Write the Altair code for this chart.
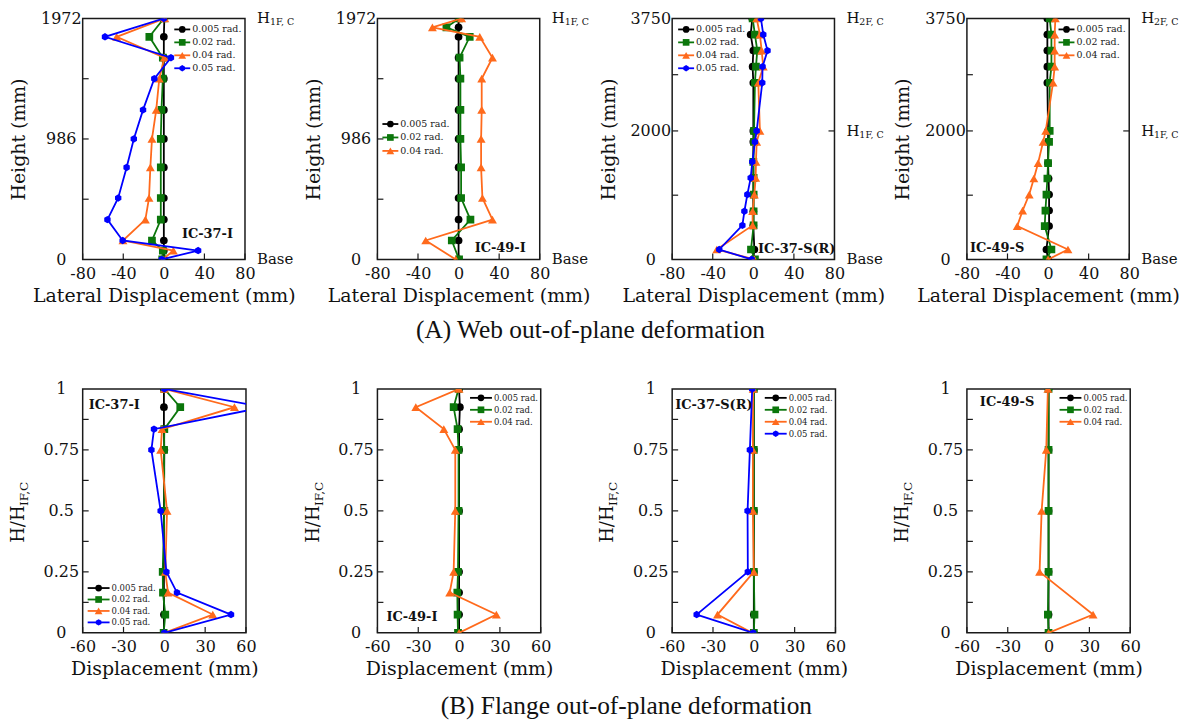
import altair as alt
import pandas as pd

FONT = "DejaVu Serif"
CAP_FONT = "Liberation Serif"

LABELS = ["0.005 rad.", "0.02 rad.", "0.04 rad.", "0.05 rad."]
COLORS = ["#000000", "#0b760b", "#ff6a1c", "#0000ff"]
HEX = "M0,-1L0.866,-0.5L0.866,0.5L0,1L-0.866,0.5L-0.866,-0.5Z"
SHAPES = ["circle", "square", "triangle-up", HEX]
SIZES = [60, 60, 80, 55]

# ---------------- (A) Web out-of-plane deformation ----------------
W37I_H = [1972, 1822, 1651, 1479, 1224, 986, 753, 503, 326, 155, 73, 0]
W37I_005 = [0.5, 0, 0, 0, 0, 0, 0, 0, 0, 0, 0, 0]
W37I_02 = [0, -14.3, -1, -1, -2.3, -3, -3, -3, -3, -11.7, -1, -1.6]
W37I_04 = [1, -46.5, 0.5, -4.5, -7.5, -11.7, -13.3, -14.6, -18.2, -40.3, 9.4, -1]
W37I_05 = [0, -58, 7, -9.4, -20.5, -29.6, -36.7, -45, -55.6, -40.6, 33.8, -2]

W49I_H = [1972, 1900, 1822, 1651, 1479, 1224, 986, 753, 503, 326, 155, 0]
W49I_005 = [0, 0, 0, 0, 0, 0, 0, 0, 0, 0, 0, 0]
W49I_02 = [0.5, -12, 11, 1, 1.8, 1.8, 1.8, 2.5, 2.5, 11.7, -6.7, 0.5]
W49I_04 = [3, -25.8, 20.9, 33.4, 22.8, 22.8, 22.2, 22.2, 23.5, 33.4, -32.4, -2.8]

W37S_H = [3750, 3500, 3250, 3000, 2750, 2000, 1830, 1520, 1270, 1010, 750, 530, 155, 0]
W37S_005 = [-1, -2.6, 0, -0.7, 0, 0, 0, 0, 0, 0, 0, 0, 1, 0]
W37S_02 = [-0.7, 1.6, 3.9, 2.6, 1.6, 0.7, 0.7, 0, 0.3, 0.3, 0.3, 0.3, -2.3, 1.6]
W37S_04 = [3.3, 6.5, 8.2, 9.8, 4.9, 6.5, 3.3, 2.6, 2.3, 1, -0.7, -0.7, -36, 1]
W37S_05 = [7.5, 9.8, 14, 9.1, 8.8, 3.3, 1.6, -1, -2.6, -5.9, -8.8, -10.8, -33.6, -1.6]

W49S_H = [3750, 3500, 3250, 3000, 2750, 2000, 1830, 1500, 1260, 1010, 760, 520, 155, 0]
W49S_005 = [-0.7, -0.7, -0.7, -0.7, -0.7, 0, 0, 0, 0.5, 1, 1, 1, -1.6, 0]
W49S_02 = [1.6, 3.3, 3.3, 3.3, 1.6, 1.6, 1, 0, -0.7, -1.6, -2.6, -3.3, 3.3, -1.6]
W49S_04 = [7.2, 6.5, 6.5, 6.5, 4.9, -2.3, -4.9, -9.8, -14, -18.6, -25.1, -30.4, 19.6, 0]

# ---------------- (B) Flange out-of-plane deformation ----------------
F37I_H = [1, 0.925, 0.835, 0.75, 0.5, 0.25, 0.165, 0.075, 0]
F37I_005 = [-0.3, -0.3, -0.3, 0, -0.3, -0.3, -0.3, -0.3, -0.3]
F37I_02 = [0, 11.7, 0, -0.2, 0, -1.2, -1, 0.7, -0.5]
F37I_04 = [0, 51.5, -1.7, -2.7, 2, 0.7, 2.7, 35.6, 0]
F37I_05 = [0, 73, -7.6, -9.5, -2.7, 1.5, 9.3, 49, 0]

F49I_H = [1, 0.925, 0.835, 0.75, 0.5, 0.25, 0.165, 0.075, 0]
F49I_005 = [0, 0.6, 0, 0, 0, 0, 0, 0, 0]
F49I_02 = [-0.4, -4, -1.1, -0.4, -0.4, -0.8, -1.3, -1.1, -0.8]
F49I_04 = [0, -31.8, -11.2, -2.8, -2.8, -4, -6.9, 27.4, 0]

F37S_H = [1, 0.75, 0.5, 0.25, 0.075, 0]
F37S_005 = [0, 0, 0, 0, 0, 0]
F37S_02 = [0, 0, 0, 0, 0.5, 0]
F37S_04 = [-0.5, -0.7, -0.7, 0, -26.7, -1.2]
F37S_05 = [-1.2, -2.9, -4.6, -4.4, -42, -0.5]

F49S_H = [1, 0.75, 0.5, 0.25, 0.075, 0]
F49S_005 = [0, 0, 0, 0, 0, 0]
F49S_02 = [0, 0, 0, 0, -0.5, 0]
F49S_04 = [-0.5, -1.7, -5.1, -6.6, 32.7, 0]

WEB_X_TICKS = [-80, -40, 0, 40, 80]
FLG_X_TICKS = [-60, -30, 0, 30, 60]
WEB_I_Y_LAB = [0, 986, 1972]
WEB_I_Y_TICK = [493, 986, 1479]
WEB_S_Y_LAB = [0, 2000, 3750]
WEB_S_Y_TICK = [1000, 2000, 2875]
FLG_Y_LAB = [0, 0.25, 0.5, 0.75, 1]
FLG_Y_TICK = [0.125, 0.25, 0.375, 0.5, 0.625, 0.75, 0.875]

TW, TH = 163, 242
BW, BH = 164, 245
INK = "#1a1a1a"


def one():
    return pd.DataFrame({"k": [0]})


def panel(levels, series, W, H, xdom, xlab, ydom, ylab, ytick, xtitle, ytitle,
          leg, tag, right=(), rtick=(), caption=None, htitle=False):
    xs = alt.Scale(domain=xdom, nice=False, zero=False)
    ys = alt.Scale(domain=ydom, nice=False, zero=False)
    xax = alt.Axis(values=xlab, title=xtitle, labelPadding=6, titlePadding=5,
                   labelFlush=False, labelExpr="'' + datum.value")
    if ytitle:
        yax = alt.Axis(values=ylab, title=ytitle, labelPadding=22, titlePadding=12,
                       labelAlign="center", labelExpr="'' + datum.value")
    else:
        yax = alt.Axis(values=ylab, title=None, labelPadding=22,
                       labelAlign="center", labelExpr="'' + datum.value")
    xe = alt.X("d:Q", scale=xs, axis=xax)
    ye = alt.Y("h:Q", scale=ys, axis=yax)

    layers = []
    # inward ticks
    layers.append(alt.Chart(pd.DataFrame({"d": xlab})).mark_rule(color=INK, strokeWidth=1.2)
                  .encode(x=xe, y=alt.value(H), y2=alt.value(H - 6)))
    layers.append(alt.Chart(pd.DataFrame({"h": ytick})).mark_rule(color=INK, strokeWidth=1.2)
                  .encode(y=ye, x=alt.value(0), x2=alt.value(6)))
    if rtick:
        layers.append(alt.Chart(pd.DataFrame({"h": list(rtick)})).mark_rule(color=INK, strokeWidth=1.2)
                      .encode(y=ye, x=alt.value(W - 6), x2=alt.value(W)))

    # series
    for i, vals in enumerate(series):
        if vals is None:
            continue
        df = pd.DataFrame({"h": levels, "d": vals, "i": list(range(len(levels)))})
        layers.append(alt.Chart(df).mark_line(color=COLORS[i], strokeWidth=1.8, clip=True)
                      .encode(x=xe, y=ye, order=alt.Order("i:Q")))
        layers.append(alt.Chart(df).mark_point(shape=SHAPES[i], filled=True, size=SIZES[i],
                                               color=COLORS[i], opacity=1, clip=True)
                      .encode(x=xe, y=ye))

    # legend
    k = 0
    for i, vals in enumerate(series):
        if vals is None:
            continue
        yy = leg["y0"] + k * leg["dy"]
        k += 1
        layers.append(alt.Chart(one()).mark_rule(color=COLORS[i], strokeWidth=1.8)
                      .encode(x=alt.value(leg["x0"]), x2=alt.value(leg["x1"]), y=alt.value(yy)))
        layers.append(alt.Chart(one()).mark_point(shape=SHAPES[i], filled=True, size=SIZES[i] * 0.75,
                                                  color=COLORS[i], opacity=1)
                      .encode(x=alt.value(leg["mx"]), y=alt.value(yy)))
        layers.append(alt.Chart(one()).mark_text(align="left", baseline="middle", font=FONT,
                                                 fontSize=leg["fs"], color="#222")
                      .encode(x=alt.value(leg["tx"]), y=alt.value(yy), text=alt.value(LABELS[i])))

    # specimen tag
    layers.append(alt.Chart(one()).mark_text(align=tag[3], baseline="middle", font=FONT,
                                             fontSize=13, fontWeight="bold", color="#111")
                  .encode(x=alt.value(tag[1]), y=alt.value(tag[2]), text=alt.value(tag[0])))

    # right-hand level labels
    if right:
        rdf = pd.DataFrame({"h": [r[0] for r in right], "lab": [r[1] for r in right]})
        layers.append(alt.Chart(rdf).mark_text(align="left", baseline="middle", font=FONT,
                                               fontSize=15, color="#111")
                      .encode(x=alt.value(W + 12), y=ye, text="lab:N"))
        sdf = pd.DataFrame({"h": [r[0] for r in right if r[2]], "sub": [r[2] for r in right if r[2]]})
        layers.append(alt.Chart(sdf).mark_text(align="left", baseline="middle", font=FONT,
                                               fontSize=9.5, dy=4, color="#111")
                      .encode(x=alt.value(W + 25), y=ye, text="sub:N"))

    # manual H/H_IF,C title
    if htitle:
        layers.append(alt.Chart(one()).mark_text(align="left", baseline="middle", font=FONT,
                                                 fontSize=18, angle=270, color="#111")
                      .encode(x=alt.value(-64), y=alt.value(H / 2 + 32), text=alt.value("H/H")))
        layers.append(alt.Chart(one()).mark_text(align="left", baseline="middle", font=FONT,
                                                 fontSize=12, angle=270, dy=5, color="#111")
                      .encode(x=alt.value(-64), y=alt.value(H / 2 - 5), text=alt.value("IF,C")))

    if caption:
        layers.append(alt.Chart(one()).mark_text(align="center", baseline="middle", font=CAP_FONT,
                                                 fontSize=25.5, color="#111")
                      .encode(x=alt.value(caption[1]), y=alt.value(caption[2]), text=alt.value(caption[0])))

    return alt.layer(*layers).properties(width=W, height=H)


LEG_TR = dict(x0=92, x1=108, mx=100, tx=110, y0=11, dy=13, fs=9.5)
LEG_TL = dict(x0=6, x1=22, mx=14, tx=24, y0=11, dy=13, fs=9.5)
LEG_ML = dict(x0=5, x1=21, mx=13, tx=23, y0=106, dy=13.5, fs=9.5)
LEG_BR = dict(x0=93, x1=115, mx=104, tx=117, y0=9, dy=12, fs=8.5)
LEG_BL = dict(x0=5, x1=27, mx=16, tx=29, y0=200, dy=11.5, fs=8.5)

RIGHT_I = [(1972, "H", "1F, C"), (0, "Base", "")]
RIGHT_S = [(3750, "H", "2F, C"), (2000, "H", "1F, C"), (0, "Base", "")]
XT_A = "Lateral Displacement (mm)"
XT_B = "Displacement (mm)"

a1 = panel(W37I_H, [W37I_005, W37I_02, W37I_04, W37I_05], TW, TH, [-80, 80], WEB_X_TICKS,
           [0, 1972], WEB_I_Y_LAB, WEB_I_Y_TICK, XT_A, "Height (mm)", LEG_TR,
           ("IC-37-I", 151, 216, "right"), right=RIGHT_I)
a2 = panel(W49I_H, [W49I_005, W49I_02, W49I_04, None], TW, TH, [-80, 80], WEB_X_TICKS,
           [0, 1972], WEB_I_Y_LAB, WEB_I_Y_TICK, XT_A, "Height (mm)", LEG_ML,
           ("IC-49-I", 149, 231, "right"), right=RIGHT_I,
           caption=("(A) Web out-of-plane deformation", 214, TH + 71))
a3 = panel(W37S_H, [W37S_005, W37S_02, W37S_04, W37S_05], TW, TH, [-80, 80], WEB_X_TICKS,
           [0, 3750], WEB_S_Y_LAB, WEB_S_Y_TICK, XT_A, "Height (mm)", LEG_TL,
           ("IC-37-S(R)", TW + 1, 232, "right"), right=RIGHT_S, rtick=[2000])
a4 = panel(W49S_H, [W49S_005, W49S_02, W49S_04, None], TW, TH, [-80, 80], WEB_X_TICKS,
           [0, 3750], WEB_S_Y_LAB, WEB_S_Y_TICK, XT_A, "Height (mm)", LEG_TR,
           ("IC-49-S", 3, 231, "left"), right=RIGHT_S, rtick=[2000])

b1 = panel(F37I_H, [F37I_005, F37I_02, F37I_04, F37I_05], BW, BH, [-60, 60], FLG_X_TICKS,
           [0, 1], FLG_Y_LAB, FLG_Y_TICK, XT_B, None, LEG_BL,
           ("IC-37-I", 6, 16, "left"), htitle=True)
b2 = panel(F49I_H, [F49I_005, F49I_02, F49I_04, None], BW, BH, [-60, 60], FLG_X_TICKS,
           [0, 1], FLG_Y_LAB, FLG_Y_TICK, XT_B, None, LEG_BR,
           ("IC-49-I", 9, 229, "left"), htitle=True,
           caption=("(B) Flange out-of-plane deformation", 250, BH + 73))
b3 = panel(F37S_H, [F37S_005, F37S_02, F37S_04, F37S_05], BW, BH, [-60, 60], FLG_X_TICKS,
           [0, 1], FLG_Y_LAB, FLG_Y_TICK, XT_B, None, LEG_BR,
           ("IC-37-S(R)", 3, 16, "left"), htitle=True)
b4 = panel(F49S_H, [F49S_005, F49S_02, F49S_04, None], BW, BH, [-60, 60], FLG_X_TICKS,
           [0, 1], FLG_Y_LAB, FLG_Y_TICK, XT_B, None, LEG_BR,
           ("IC-49-S", 13, 13, "left"), htitle=True)

top = alt.hconcat(a1, a2, a3, a4, spacing=133, bounds="flush")
bottom = alt.hconcat(b1, b2, b3, b4, spacing=132, bounds="flush")

# with flush bounds the nested row counts as zero height, so spacing is top-to-top
chart = alt.vconcat(top, bottom, spacing=TH + 130, bounds="flush").properties(
    padding={"left": 0, "top": 0, "right": 0, "bottom": 0}
).configure_view(
    stroke=INK, strokeWidth=1.5
).configure_axis(
    labelFont=FONT, titleFont=FONT, labelFontSize=16, titleFontSize=19,
    titleFontWeight="normal", labelColor="#111", titleColor="#111",
    grid=False, domain=False, ticks=False, tickSize=0
)

chart.save("out.html", embed_options={"renderer": "svg", "actions": False})
